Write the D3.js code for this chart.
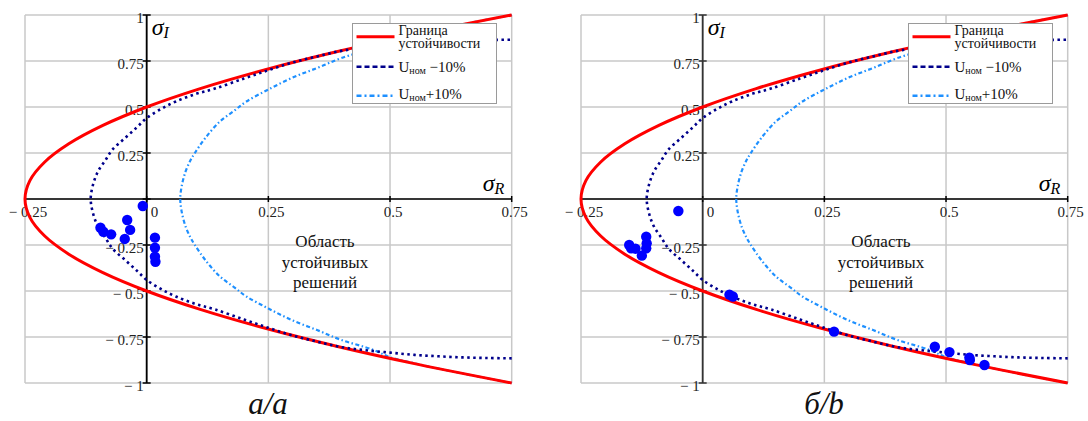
<!DOCTYPE html>
<html>
<head>
<meta charset="utf-8">
<script src="https://cdn.jsdelivr.net/npm/d3@7"></script>
<style>
  body { margin: 0; background: #fff; }
  svg text { font-family: "Liberation Serif", "DejaVu Serif", "Noto Serif", serif; }
</style>
</head>
<body>
<script>
/* global d3 */

// Data

// stability boundary
const boundaryR = [0.75, 0.56, 0.39, 0.24, 0.11, 0, -0.09, -0.16, -0.21, -0.24, -0.25,
  -0.24, -0.21, -0.16, -0.09, 0, 0.11, 0.24, 0.39, 0.56, 0.75];
const boundaryI = [-1, -0.9, -0.8, -0.7, -0.6, -0.5, -0.4, -0.3, -0.2, -0.1, 0,
  0.1, 0.2, 0.3, 0.4, 0.5, 0.6, 0.7, 0.8, 0.9, 1];

// U nom -10%
const minusR = [0.75, 0.7, 0.65, 0.6, 0.55, 0.5, 0.45, 0.4, 0.35, 0.3, 0.25, 0.2, 0.14, 0.1, 0.06, 0.03, 0,
  -0.02, -0.045, -0.07, -0.085, -0.1, -0.11, -0.115,
  -0.11, -0.1, -0.085, -0.07, -0.045, -0.02,
  0, 0.03, 0.06, 0.1, 0.14, 0.2, 0.25, 0.3, 0.35, 0.4, 0.45, 0.5, 0.55, 0.6, 0.65, 0.7, 0.75];
const minusI = [-0.866, -0.864, -0.861, -0.855, -0.847, -0.835, -0.822, -0.805, -0.775, -0.742, -0.7, -0.655, -0.6, -0.57, -0.53, -0.49, -0.44,
  -0.39, -0.33, -0.27, -0.21, -0.15, -0.08, 0,
  0.08, 0.15, 0.21, 0.27, 0.33, 0.39,
  0.44, 0.49, 0.53, 0.57, 0.6, 0.655, 0.7, 0.742, 0.775, 0.805, 0.822, 0.835, 0.847, 0.855, 0.861, 0.864, 0.866];

// U nom +10%
const plusR = [0.75, 0.7, 0.65, 0.6, 0.55, 0.5, 0.466, 0.4, 0.35, 0.3, 0.25, 0.205, 0.18, 0.15, 0.12, 0.099, 0.09, 0.08, 0.072, 0.069,
  0.072, 0.08, 0.09, 0.099, 0.12, 0.15, 0.18, 0.205, 0.25, 0.3, 0.35, 0.4, 0.466, 0.5, 0.55, 0.6, 0.65, 0.7, 0.75];
const plusI = [-1, -0.975, -0.949, -0.922, -0.893, -0.86, -0.82, -0.766, -0.712, -0.66, -0.595, -0.53, -0.48, -0.42, -0.33, -0.25, -0.21, -0.15, -0.07, 0,
  0.07, 0.15, 0.21, 0.25, 0.33, 0.42, 0.48, 0.53, 0.595, 0.66, 0.712, 0.766, 0.82, 0.86, 0.893, 0.922, 0.949, 0.975, 1];

// measured points, panel a
const pointsAR = [-0.008, -0.040, -0.034, -0.045, -0.095, -0.089, -0.073, 0.017, 0.017, 0.017, 0.018];
const pointsAI = [-0.038, -0.114, -0.168, -0.217, -0.156, -0.178, -0.192, -0.21, -0.265, -0.314, -0.341];

// measured points, panel b
const pointsBR = [-0.05, -0.151, -0.147, -0.138, -0.116, -0.115, -0.116, -0.125, 0.055, 0.062, 0.270, 0.477, 0.507, 0.548, 0.549, 0.579];
const pointsBI = [-0.065, -0.25, -0.268, -0.27, -0.205, -0.241, -0.268, -0.308, -0.52, -0.53, -0.721, -0.803, -0.832, -0.862, -0.875, -0.902];

// ticks
const xTicks = [-0.25, 0, 0.25, 0.5, 0.75];
const xTickLabels = ['\u2212 0.25', '0', '0.25', '0.5', '0.75'];
const yTicks = [1, 0.75, 0.5, 0.25, 0, -0.25, -0.5, -0.75, -1];
const yTickLabels = ['1', '0.75', '0.5', '0.25', '', '\u2212 0.25', '\u2212 0.5', '\u2212 0.75', '\u2212 1'];

const captions = ['а/a', 'б/b'];

// SVG setup
const width = 1088;
const height = 421;
const plotW = 486.7;
const plotTop = 15;
const plotBottom = 383;

const svg = d3.select('body')
.append('svg')
.attr('width', width)
.attr('height', height);

const toPoints = (rs, is) => rs.map((r, i) => [r, is[i]]);

function drawPanel(x0, pts, caption, axisColor, idx) {
    const xScale = d3.scaleLinear().domain([-0.25, 0.75]).range([x0, x0 + plotW]);
    const yScale = d3.scaleLinear().domain([-1, 1]).range([plotBottom, plotTop]);
    const g = svg.append('g');

    const clipId = 'clip' + idx;
    g.append('clipPath').attr('id', clipId)
    .append('rect')
    .attr('x', x0 - 2).attr('y', plotTop - 2)
    .attr('width', plotW + 4).attr('height', plotBottom - plotTop + 4);

    // grid
    g.selectAll('.vgrid').data(xTicks).enter()
    .append('line')
    .attr('x1', d => xScale(d)).attr('x2', d => xScale(d))
    .attr('y1', plotTop).attr('y2', plotBottom)
    .attr('stroke', '#c8c8c8').attr('stroke-width', 1.5);

    g.selectAll('.hgrid').data(yTicks).enter()
    .append('line')
    .attr('x1', x0).attr('x2', x0 + plotW)
    .attr('y1', d => yScale(d)).attr('y2', d => yScale(d))
    .attr('stroke', '#c8c8c8').attr('stroke-width', 1.5);

    // axes
    const ax = xScale(0);
    const ay = yScale(0);
    g.append('line')
    .attr('x1', x0).attr('x2', x0 + plotW).attr('y1', ay).attr('y2', ay)
    .attr('stroke', '#000').attr('stroke-width', 1.5);
    g.append('line')
    .attr('x1', ax).attr('x2', ax).attr('y1', plotTop).attr('y2', plotBottom)
    .attr('stroke', axisColor).attr('stroke-width', 1.8);

    g.selectAll('.xtick').data(xTicks).enter()
    .append('line')
    .attr('x1', d => xScale(d)).attr('x2', d => xScale(d))
    .attr('y1', ay - 3).attr('y2', ay + 3)
    .attr('stroke', '#000').attr('stroke-width', 1.5);

    g.selectAll('.ytick').data(yTicks).enter()
    .append('line')
    .attr('x1', ax - 4).attr('x2', ax + 4)
    .attr('y1', d => yScale(d)).attr('y2', d => yScale(d))
    .attr('stroke', axisColor).attr('stroke-width', 1.5);

    // tick labels
    g.selectAll('.xlabel').data(xTicks).enter()
    .append('text')
    .text((d, i) => xTickLabels[i])
    .attr('x', d => d === 0 ? xScale(d) + 4 : xScale(d) + 3)
    .attr('y', ay + 18)
    .attr('text-anchor', d => d === 0 ? 'start' : 'middle')
    .attr('font-size', '15px')
    .attr('fill', '#222');

    g.selectAll('.ylabel').data(yTicks).enter()
    .append('text')
    .text((d, i) => yTickLabels[i])
    .attr('x', ax - 3)
    .attr('y', d => yScale(d) + 8)
    .attr('text-anchor', 'end')
    .attr('font-size', '15px')
    .attr('fill', '#222');

    // curves
    const line = d3.line()
    .x(d => xScale(d[0]))
    .y(d => yScale(d[1]))
    .curve(d3.curveCatmullRom);

    const curves = g.append('g').attr('clip-path', `url(#${ clipId })`);

    curves.append('path')
    .attr('d', line(toPoints(plusR, plusI)))
    .attr('fill', 'none')
    .attr('stroke', '#1e90ff')
    .attr('stroke-width', 2.2)
    .attr('stroke-dasharray', '4,2.5,1.5,2.5');

    curves.append('path')
    .attr('d', line(toPoints(boundaryR, boundaryI)))
    .attr('fill', 'none')
    .attr('stroke', '#ff0000')
    .attr('stroke-width', 3);

    curves.append('path')
    .attr('d', line(toPoints(minusR, minusI)))
    .attr('fill', 'none')
    .attr('stroke', '#00008b')
    .attr('stroke-width', 2.6)
    .attr('stroke-dasharray', '2.5,3.5');

    // points
    g.selectAll('.pt').data(pts).enter()
    .append('circle')
    .attr('cx', d => xScale(d[0]))
    .attr('cy', d => yScale(d[1]))
    .attr('r', 5.2)
    .attr('fill', '#0000ff');

    // axis titles
    const sI = g.append('text')
    .attr('x', ax + 5).attr('y', 35)
    .attr('font-size', '24px').attr('font-style', 'italic');
    sI.append('tspan').text('σ');
    sI.append('tspan').text('I').attr('font-size', '16px').attr('dy', 3);

    const sR = g.append('text')
    .attr('x', x0 + plotW - 29).attr('y', 191)
    .attr('font-size', '24px').attr('font-style', 'italic');
    sR.append('tspan').text('σ');
    sR.append('tspan').text('R').attr('font-size', '16px').attr('dy', 3);

    // region label
    const region = ['Область', 'устойчивых', 'решений'];
    g.selectAll('.region').data(region).enter()
    .append('text')
    .text(d => d)
    .attr('x', x0 + 300)
    .attr('y', (d, i) => 247 + i * 20.7)
    .attr('text-anchor', 'middle')
    .attr('font-size', '17px')
    .attr('fill', '#111');

    // legend
    const lx = x0 + 327.5;
    const lg = g.append('g');
    lg.append('rect')
    .attr('x', lx).attr('y', 23.5)
    .attr('width', 144).attr('height', 80)
    .attr('fill', '#fff')
    .attr('stroke', '#9a9a9a')
    .attr('stroke-width', 1);

    lg.append('line')
    .attr('x1', lx + 4).attr('x2', lx + 42).attr('y1', 36.7).attr('y2', 36.7)
    .attr('stroke', '#ff0000').attr('stroke-width', 3);
    lg.append('line')
    .attr('x1', lx + 4).attr('x2', lx + 42).attr('y1', 66.7).attr('y2', 66.7)
    .attr('stroke', '#00008b').attr('stroke-width', 2.6)
    .attr('stroke-dasharray', '5,3');
    lg.append('line')
    .attr('x1', lx + 4).attr('x2', lx + 42).attr('y1', 95.7).attr('y2', 95.7)
    .attr('stroke', '#1e90ff').attr('stroke-width', 2.4)
    .attr('stroke-dasharray', '5,3,2,3');

    const tx = lx + 46;
    lg.append('text').text('Граница').attr('x', tx).attr('y', 35)
    .attr('font-size', '14px').attr('fill', '#111');
    lg.append('text').text('устойчивости').attr('x', tx).attr('y', 48)
    .attr('font-size', '14px').attr('fill', '#111');

    const t1 = lg.append('text').attr('x', tx).attr('y', 72)
    .attr('font-size', '15px').attr('fill', '#111');
    t1.append('tspan').text('U');
    t1.append('tspan').text('ном').attr('font-size', '10px').attr('dy', 2);
    t1.append('tspan').text(' \u221210%').attr('dy', -2);

    const t2 = lg.append('text').attr('x', tx).attr('y', 99)
    .attr('font-size', '15px').attr('fill', '#111');
    t2.append('tspan').text('U');
    t2.append('tspan').text('ном').attr('font-size', '10px').attr('dy', 2);
    t2.append('tspan').text('+10%').attr('dy', -2);

    // caption
    g.append('text')
    .text(caption)
    .attr('x', x0 + 243)
    .attr('y', 414)
    .attr('text-anchor', 'middle')
    .attr('font-size', '31px')
    .attr('font-style', 'italic')
    .attr('fill', '#111');
}

drawPanel(25, toPoints(pointsAR, pointsAI), captions[0], '#000', 0);
drawPanel(581, toPoints(pointsBR, pointsBI), captions[1], '#333', 1);
</script>
</body>
</html>
